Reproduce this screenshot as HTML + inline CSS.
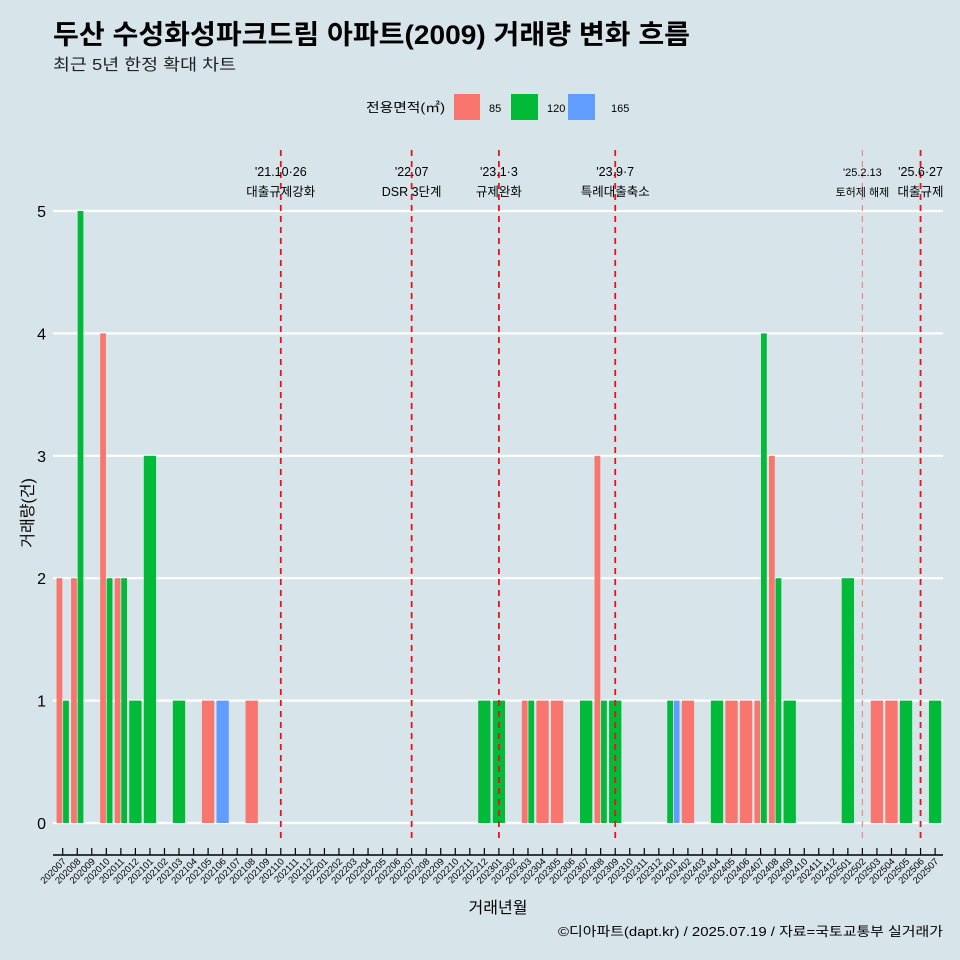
<!DOCTYPE html>
<html><head><meta charset="utf-8"><style>
body{margin:0;background:#d7e4ea;}
svg{display:block;font-family:"Liberation Sans","Noto Sans CJK KR",sans-serif;}
</style></head><body>
<svg id="chart" width="960" height="960" viewBox="0 0 960 960">
<rect width="960" height="960" fill="#d7e4ea"/>
<text x="53" y="44" font-size="27" font-weight="bold" fill="#000" textLength="637" lengthAdjust="spacingAndGlyphs">두산 수성화성파크드림 아파트(2009) 거래량 변화 흐름</text>
<text x="53" y="70" font-size="16" fill="#222" textLength="183" lengthAdjust="spacingAndGlyphs">최근 5년 한정 확대 차트</text>
<g>
<text x="366" y="112" font-size="13" fill="#000" textLength="79" lengthAdjust="spacingAndGlyphs">전용면적(㎡)</text>
<rect x="454" y="94" width="26" height="26" fill="#f8766d"/>
<text x="489" y="112" font-size="11">85</text>
<rect x="511" y="94" width="27" height="26" fill="#00ba38"/>
<text x="547" y="112" font-size="11">120</text>
<rect x="568" y="94" width="27" height="26" fill="#619cff"/>
<text x="611" y="112" font-size="11">165</text>
</g>
<defs><clipPath id="pc"><rect x="0" y="140" width="943" height="720"/></clipPath></defs>
<g id="grid"></g>
<g id="bars"></g>
<g id="events" clip-path="url(#pc)"></g>
<g id="xaxis"></g>
<text x="0" y="0" transform="translate(33,513) rotate(-90)" text-anchor="middle" font-size="16">거래량(건)</text>
<text x="498" y="913" text-anchor="middle" font-size="16">거래년월</text>
<text x="943" y="936" text-anchor="end" font-size="13" textLength="385" lengthAdjust="spacingAndGlyphs">©디아파트(dapt.kr) / 2025.07.19 / 자료=국토교통부 실거래가</text>
</svg>
<script>
const months = [];
for (let y = 2020; y <= 2025; y++) for (let m = 1; m <= 12; m++) {
  const k = y * 100 + m; if (k >= 202007 && k <= 202507) months.push(String(k));
}
const groups = ["85", "120", "165"];
const colors = {"85": "#f8766d", "120": "#00ba38", "165": "#619cff"};
const obsMonth = ["202007","202007","202008","202008","202010","202010","202011","202011","202012","202101","202103","202105","202106","202108","202212","202301","202303","202303","202304","202305","202307","202308","202308","202309","202401","202401","202402","202404","202405","202406","202407","202407","202408","202408","202409","202501","202503","202504","202505","202507"];
const obsGroup = ["85","120","85","120","85","120","85","120","120","120","120","85","165","85","120","120","85","120","85","85","120","85","120","120","120","165","85","120","85","85","85","120","85","120","120","120","85","85","120","120"];
const obsCount = [2,1,2,5,4,2,2,2,1,3,1,1,1,1,1,1,1,1,1,1,1,3,1,1,1,1,1,1,1,1,1,4,3,2,1,2,1,1,1,1];
const yTicks = [0,1,2,3,4,5];
const eventMonth = ["202110","202207","202301","202309","202502","202506"];
const eventLine1 = ["'21.10·26","'22.07","'23.1·3","'23.9·7","'25.2.13","'25.6·27"];
const eventLine2 = ["대출규제강화","DSR 3단계","규제완화","특례대출축소","토허제 해제","대출규제"];

const NS = "http://www.w3.org/2000/svg";
const x0 = 62.7, step = 14.54;
const xS = m => x0 + months.indexOf(m) * step;
const yS = v => 823 - v * 122.4;
function mk(tag, attrs, parent, txt) {
  const e = document.createElementNS(NS, tag);
  for (const k in attrs) e.setAttribute(k, attrs[k]);
  if (txt !== undefined) e.textContent = txt;
  document.getElementById(parent).appendChild(e); return e;
}
yTicks.forEach(t => {
  const l = mk("line", {x1: 53, x2: 943, y1: yS(t), y2: yS(t), stroke: "#fff", "stroke-width": 2.2}, "grid");
  
  
  const tx = mk("text", {x: 46, y: yS(t) + 6, "text-anchor": "end", "font-size": 16}, "grid", String(t));
  
  
});
months.forEach(m => {
  const present = groups.filter(g => obsMonth.some((om, i) => om === m && obsGroup[i] === g));
  const n = present.length; if (!n) return;
  const w = step * 0.9 / n;
  present.forEach((g, j) => {
    let v = 0; obsMonth.forEach((om, i) => { if (om === m && obsGroup[i] === g) v += obsCount[i]; });
    const left = xS(m) - step * 0.45 + j * w;
    const r = mk("rect", {x: left + 0.4, y: yS(v), width: w - 0.8, height: yS(0) - yS(v), fill: colors[g]}, "bars");
    
    
  });
});
eventMonth.forEach((m, i) => {
  const x = xS(m); const faint = m === "202502";
  const l = mk("line", {x1: x, x2: x, y1: 150, y2: 843, stroke: faint ? "#e88" : "#e8141c", "stroke-width": faint ? 1.2 : 1.8, "stroke-dasharray": "6,5"}, "events");
  
  
  const fs = faint ? 11 : 12.5;
  const t1 = mk("text", {x: x, y: 176, "text-anchor": "middle", "font-size": fs}, "events", eventLine1[i]);
  
  
  const t2 = mk("text", {x: x, y: 196, "text-anchor": "middle", "font-size": fs}, "events", eventLine2[i]);
  
  
});
const ax = mk("line", {x1: 53, x2: 943, y1: 855, y2: 855, stroke: "#000", "stroke-width": 1.5}, "xaxis");


months.forEach(m => {
  const x = xS(m);
  const tk = mk("line", {x1: x, x2: x, y1: 848, y2: 855, stroke: "#000", "stroke-width": 1.2}, "xaxis");
  
  
  const t = mk("text", {x: 0, y: 0, "text-anchor": "end", "font-size": 9.5, transform: `translate(${x + 4},${862}) rotate(-45)`}, "xaxis", m);
  
  
});
</script>
</body></html>
